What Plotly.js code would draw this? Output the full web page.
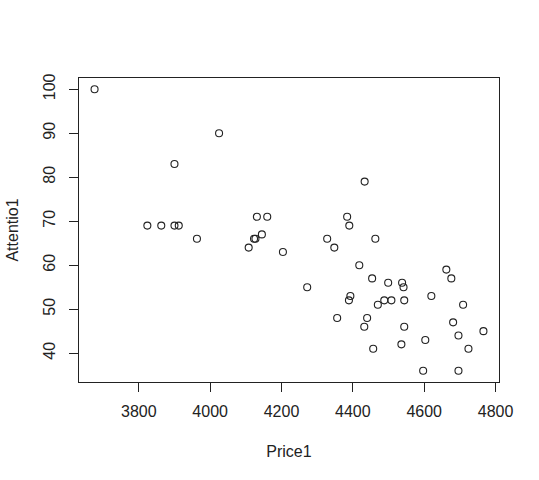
<!DOCTYPE html>
<html>
<head>
<meta charset="utf-8">
<script src="https://cdn.plot.ly/plotly-3.0.1.min.js"></script>
<style>html,body{margin:0;padding:0;background:#fff;}#chart{width:539px;height:480px;}</style>
</head>
<body>
<div id="chart"></div>
<script>
const price1 = [3676, 4025, 3900, 3824, 3863, 3900, 3912, 3963, 4131, 4160,
                4127, 4123, 4145, 4108, 4204, 4433, 4384, 4390, 4328, 4348,
                4463, 4418, 4272, 4454, 4499, 4538, 4542, 4662, 4676, 4393,
                4389, 4488, 4508, 4470, 4544, 4620, 4709, 4356, 4440, 4432,
                4544, 4681, 4696, 4766, 4603, 4536, 4457, 4724, 4597, 4696];
const attentio1 = [100, 90, 83, 69, 69, 69, 69, 66, 71, 71,
                   66, 66, 67, 64, 63, 79, 71, 69, 66, 64,
                   66, 60, 55, 57, 56, 56, 55, 59, 57, 53,
                   52, 52, 52, 51, 52, 53, 51, 48, 48, 46,
                   46, 47, 44, 45, 43, 42, 41, 41, 36, 36];
const xTitle = "Price1";
const yTitle = "Attentio1";

function padRange(arr) {
  const mn = Math.min(...arr), mx = Math.max(...arr);
  const p = (mx - mn) * 0.04;
  return [mn - p, mx + p];
}

const font = {family: "Liberation Sans, Arial, sans-serif", size: 16, color: "#222"};

const trace = {
  x: price1, y: attentio1, type: "scatter", mode: "markers",
  marker: {symbol: "circle-open", size: 7, color: "#222", line: {width: 1.1, color: "#222"}},
  hoverinfo: "skip"
};

const axisBase = {
  showline: true, mirror: true, linecolor: "#222", linewidth: 1,
  showgrid: false, zeroline: false,
  ticks: "outside", ticklen: 9, tickwidth: 1, tickcolor: "#222",
  tickfont: font
};

const layout = {
  width: 539, height: 480,
  margin: {l: 79, r: 40, t: 78, b: 98},
  paper_bgcolor: "#fff", plot_bgcolor: "#fff",
  showlegend: false,
  font: font,
  xaxis: Object.assign({}, axisBase, {
    range: padRange(price1), tick0: 0, dtick: 200,
    ticklabelstandoff: 6,
    title: {text: xTitle, font: font, standoff: 26}
  }),
  yaxis: Object.assign({}, axisBase, {
    range: padRange(attentio1), tick0: 0, dtick: 10, tickangle: -90,
    ticklabelstandoff: 8,
    title: {text: yTitle, font: font, standoff: 17}
  })
};

Plotly.newPlot("chart", [trace], layout, {staticPlot: true, displayModeBar: false});
</script>
</body>
</html>
